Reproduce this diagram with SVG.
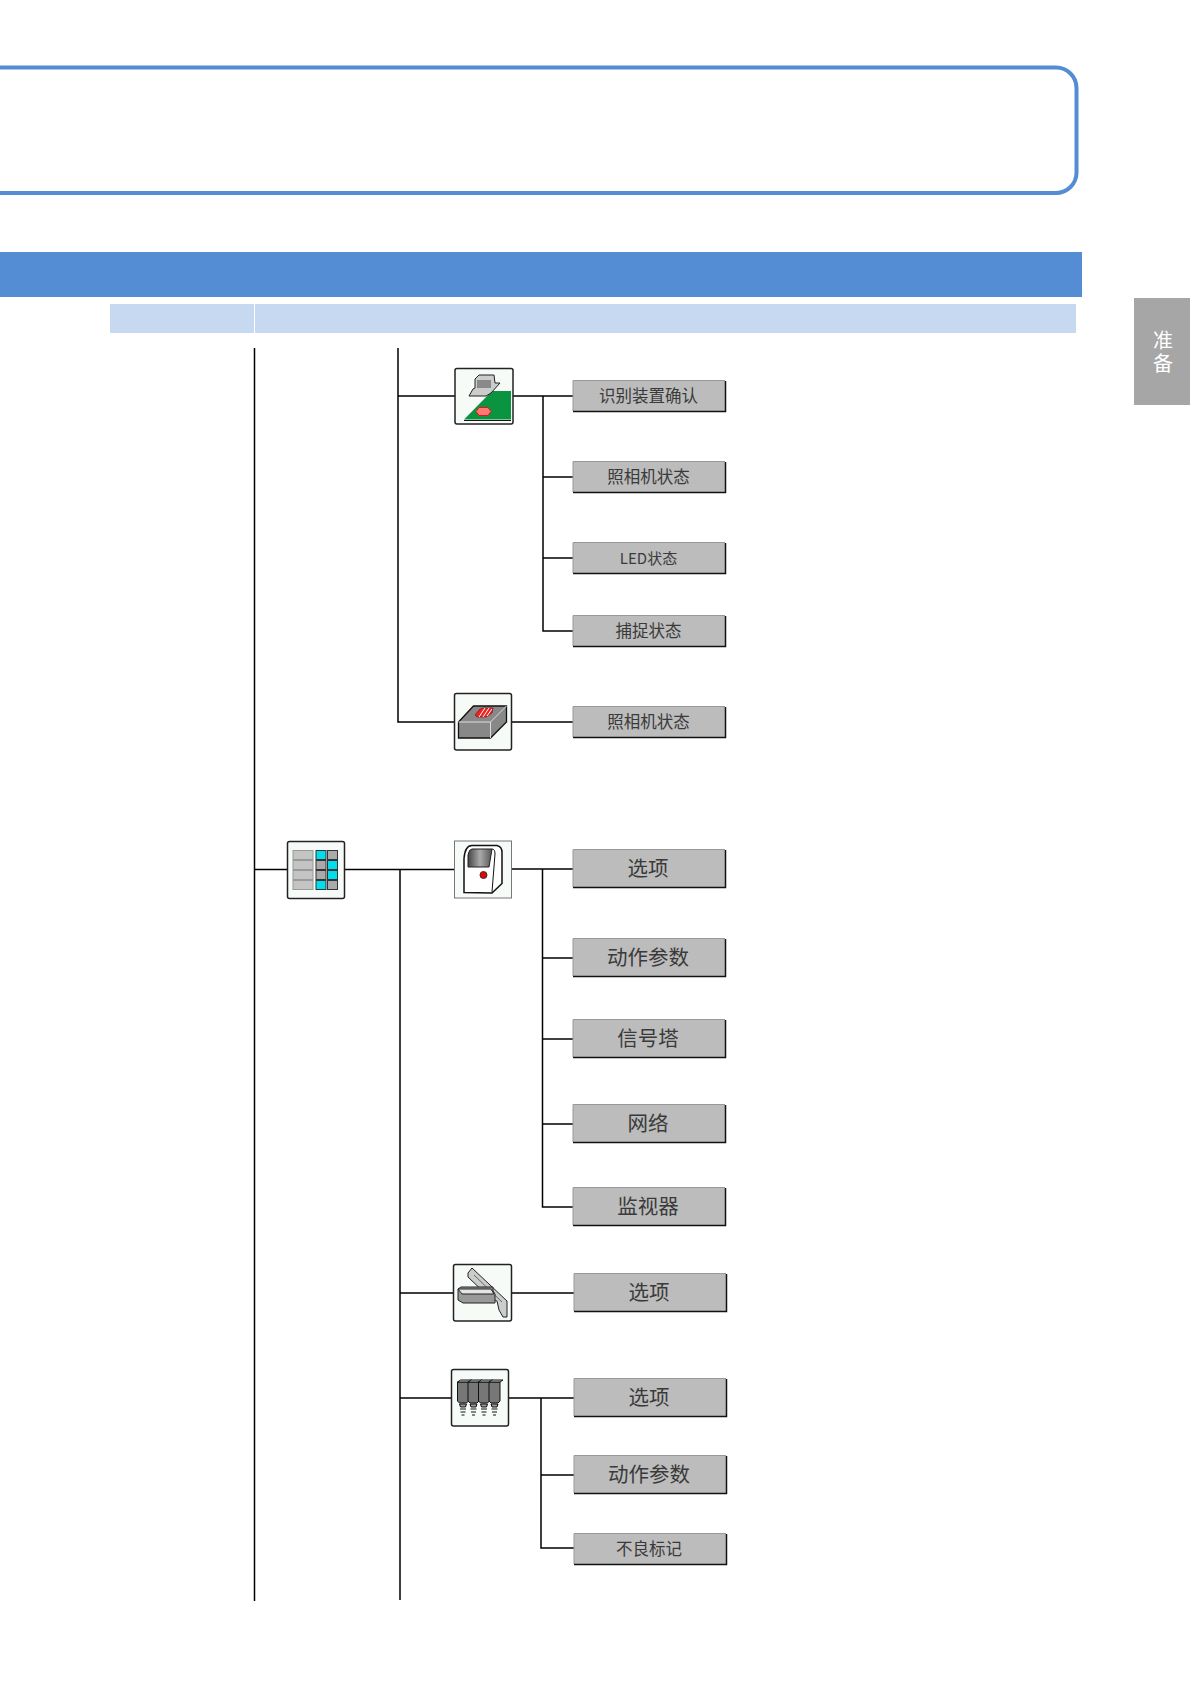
<svg xmlns="http://www.w3.org/2000/svg" width="1190" height="1684" viewBox="0 0 1190 1684">
<style>
.c{fill:none;stroke:#000;stroke-width:1.500}
.i{fill:#f6fbf7;stroke:#222;stroke-width:1.500}
.b{fill:#bcbcbc;stroke:none}
.hl{fill:none;stroke:#999;stroke-width:1}
.sh{fill:none;stroke:#111;stroke-width:1.500}
.s{font-family:"Noto Sans CJK SC","Liberation Sans",sans-serif;font-size:16.500px;fill:#3a3a3a;text-anchor:middle;dominant-baseline:central}
.l{font-size:20.500px}
.t{font-family:"Noto Sans CJK SC",sans-serif;font-size:20px;fill:#fff;writing-mode:vertical-rl;letter-spacing:3px}
</style>
<defs>
<linearGradient id="win"><stop offset="0" stop-color="#444"/><stop offset=".5" stop-color="#aaa"/><stop offset="1" stop-color="#555"/></linearGradient>
<g id="nz"><path d="M0 0h11v19l-2 2H2l-2-2z" fill="#777" stroke="#111"/><path d="M0 0l3-2h11l-3 2z" fill="#ccc" stroke="#111"/><path d="M2 22h7l-1 3H3zM2.500 27h6M3 30h5M4 33h3" fill="#999" stroke="#111"/></g>
<g id="cell"><rect width="10" height="9" fill="#aaa" stroke="#333"/></g>
<g id="cellc"><rect width="10" height="9" fill="#0de" stroke="#333"/></g>
</defs>

<g id="frame"><path d="M0 67.500H1056a20.500 20.500 0 0 1 20.500 20.500V172.500a20.500 20.500 0 0 1-20.500 20.500H0" fill="none" stroke="#548dd4" stroke-width="4"/></g>
<rect id="title-bar" x="0" y="252" width="1082" height="45" fill="#548dd4"/>
<g id="table-head" fill="#c6d9f1"><rect x="110" y="304" width="144" height="29"/><rect x="255" y="304" width="821" height="29"/></g>
<g id="tab"><rect x="1134" y="298" width="56" height="107" fill="#a6a6a6"/><text class="t" x="1163" y="330">准备</text></g>

<g id="connectors">
<path class="c" d="M254.500 348V1601M398 348V722H454M398 396H455M513 396H573M543 396V631H573M543 477H573M543 558H573M512 722H573"/>
<path class="c" d="M254.500 869.500H287M345 869.500H454M400 869.500V1600M400 1293H453M400 1398H451"/>
<path class="c" d="M512 869H573M542.500 869V1207H573M542.500 958H573M542.500 1039H573M542.500 1124H573M512 1293H574M509 1398H574M541 1398V1548H574M541 1475H574"/>
</g>

<g id="icon-vision"><rect class="i" x="455" y="368.500" width="58" height="55.500" rx="2"/>
<path d="M464 419.500L492 391H511V419.500Z" fill="#0a9440"/><path d="M464 420.500H511" stroke="#111"/>
<path d="M476 411.500l3-4h9l3 4-3 4h-9z" fill="#f77" stroke="#e11"/>
<path d="M469 396l4-7 2-1v-9l4-4h15l1 8h5l-9 10-5 3z" fill="#ccc" stroke="#222"/><path d="M477 380h14v8h-14z" fill="#8a8a8a"/>
</g>
<g id="btn-id"><rect class="b" x="573" y="381" width="152.500" height="31"/><path class="hl" d="M573 411V380.500H725"/><path class="sh" d="M573 411.500H725.500V381"/><text class="s" x="648.500" y="395">识别装置确认</text></g>
<g id="btn-cam"><rect class="b" x="573" y="462" width="152.500" height="31"/><path class="hl" d="M573 492V461.500H725"/><path class="sh" d="M573 492.500H725.500V462"/><text class="s" x="648.500" y="476">照相机状态</text></g>
<g id="btn-led"><rect class="b" x="573" y="543" width="152.500" height="31"/><path class="hl" d="M573 573V542.500H725"/><path class="sh" d="M573 573.500H725.500V543"/><text class="s" x="648.500" y="557" style="font-size:15px">LED状态</text></g>
<g id="btn-cap"><rect class="b" x="573" y="616" width="152.500" height="31"/><path class="hl" d="M573 646V615.500H725"/><path class="sh" d="M573 646.500H725.500V616"/><text class="s" x="648.500" y="630">捕捉状态</text></g>

<g id="icon-camera"><rect class="i" x="454.500" y="693.500" width="57" height="56.500" rx="2"/>
<path d="M458.500 722l15-16h33v16l-16 16h-32z" fill="#888" stroke="#111" stroke-width="1.300"/><path d="M458.500 722h32l16-16M490.500 722v16" stroke="#ddd" fill="none"/>
<path d="M475 715l5-6 4-1h9l-1 5-6 4h-9z" fill="#e22" stroke="#811" stroke-width=".7"/>
<path d="M479 717l6-9M483 717l6-9M487 716l5-7" stroke="#fff"/>
</g>
<g id="btn-cam2"><rect class="b" x="573" y="707" width="152.500" height="31"/><path class="hl" d="M573 737V706.500H725"/><path class="sh" d="M573 737.500H725.500V707"/><text class="s" x="648.500" y="721">照相机状态</text></g>

<g id="icon-setup"><rect class="i" x="287.500" y="841.500" width="57" height="57" rx="2"/>
<g fill="#c4c4c4" stroke="#999"><rect x="293" y="850.500" width="20" height="9"/><rect x="293" y="860.500" width="20" height="9"/><rect x="293" y="870.500" width="20" height="9"/><rect x="293" y="880.500" width="20" height="9"/></g>
<use href="#cellc" x="316" y="850.500"/><use href="#cell" x="327.500" y="850.500"/><use href="#cell" x="316" y="860.500"/><use href="#cellc" x="327.500" y="860.500"/><use href="#cell" x="316" y="870.500"/><use href="#cellc" x="327.500" y="870.500"/><use href="#cellc" x="316" y="880.500"/><use href="#cell" x="327.500" y="880.500"/>
</g>

<g id="icon-machine"><rect x="454.500" y="841" width="57" height="57" fill="#f6fbf7" stroke="#777"/>
<path d="M464 892.500v-34q1-13 8-13h25q5 1 5 7v31l-10 9.500z" fill="#fff" stroke="#111" stroke-width="1.500"/>
<path d="M468 867v-12q1-6 4-6h20l-3 18z" fill="url(#win)" stroke="#222"/><path d="M492 849q3 0 3 5l-3 38" fill="none" stroke="#111"/>
<circle cx="483.500" cy="875" r="3.500" fill="#e00" stroke="#333"/>
</g>
<g id="btn-opt1"><rect class="b" x="573" y="850" width="152.500" height="38"/><path class="hl" d="M573 887V849.500H725"/><path class="sh" d="M573 887.500H725.500V850"/><text class="s l" x="648" y="867">选项</text></g>
<g id="btn-par1"><rect class="b" x="573" y="939" width="152.500" height="38"/><path class="hl" d="M573 976V938.500H725"/><path class="sh" d="M573 976.500H725.500V939"/><text class="s l" x="648" y="956">动作参数</text></g>
<g id="btn-sig"><rect class="b" x="573" y="1020" width="152.500" height="38"/><path class="hl" d="M573 1057V1019.500H725"/><path class="sh" d="M573 1057.500H725.500V1020"/><text class="s l" x="648" y="1037">信号塔</text></g>
<g id="btn-net"><rect class="b" x="573" y="1105" width="152.500" height="38"/><path class="hl" d="M573 1142V1104.500H725"/><path class="sh" d="M573 1142.500H725.500V1105"/><text class="s l" x="648" y="1122">网络</text></g>
<g id="btn-mon"><rect class="b" x="573" y="1188" width="152.500" height="38"/><path class="hl" d="M573 1225V1187.500H725"/><path class="sh" d="M573 1225.500H725.500V1188"/><text class="s l" x="648" y="1205">监视器</text></g>

<g id="icon-rail"><rect class="i" x="453.500" y="1264.500" width="58" height="56.500" rx="2"/>
<path d="M468 1273l4-5 35 33v16h-4l-4-7-2-9-7-3-22-21z" fill="#ccc" stroke="#222"/><path d="M474 1275l28 27" stroke="#666" fill="none"/>
<path d="M458 1289l3-2h32v4l2 3v9h-32l-5-3z" fill="#999" stroke="#222"/><path d="M458 1289h33l3 5h-32z" fill="#e4e4e4" stroke="#222"/>
</g>
<g id="btn-opt2"><rect class="b" x="574" y="1274" width="152.500" height="38"/><path class="hl" d="M574 1311V1273.500H726"/><path class="sh" d="M574 1311.500H726.500V1274"/><text class="s l" x="649" y="1291">选项</text></g>

<g id="icon-head"><rect class="i" x="451.500" y="1369.500" width="57" height="56.500" rx="2"/>
<use href="#nz" x="457.500" y="1382"/><use href="#nz" x="468" y="1382"/><use href="#nz" x="478.500" y="1382"/><use href="#nz" x="489" y="1382"/>
</g>
<g id="btn-opt3"><rect class="b" x="574" y="1379" width="152.500" height="38"/><path class="hl" d="M574 1416V1378.500H726"/><path class="sh" d="M574 1416.500H726.500V1379"/><text class="s l" x="649" y="1396">选项</text></g>
<g id="btn-par2"><rect class="b" x="574" y="1456" width="152.500" height="38"/><path class="hl" d="M574 1493V1455.500H726"/><path class="sh" d="M574 1493.500H726.500V1456"/><text class="s l" x="649" y="1473">动作参数</text></g>
<g id="btn-bad"><rect class="b" x="574" y="1534" width="152.500" height="31"/><path class="hl" d="M574 1564V1533.500H726"/><path class="sh" d="M574 1564.500H726.500V1534"/><text class="s" x="649" y="1548">不良标记</text></g>
</svg>
